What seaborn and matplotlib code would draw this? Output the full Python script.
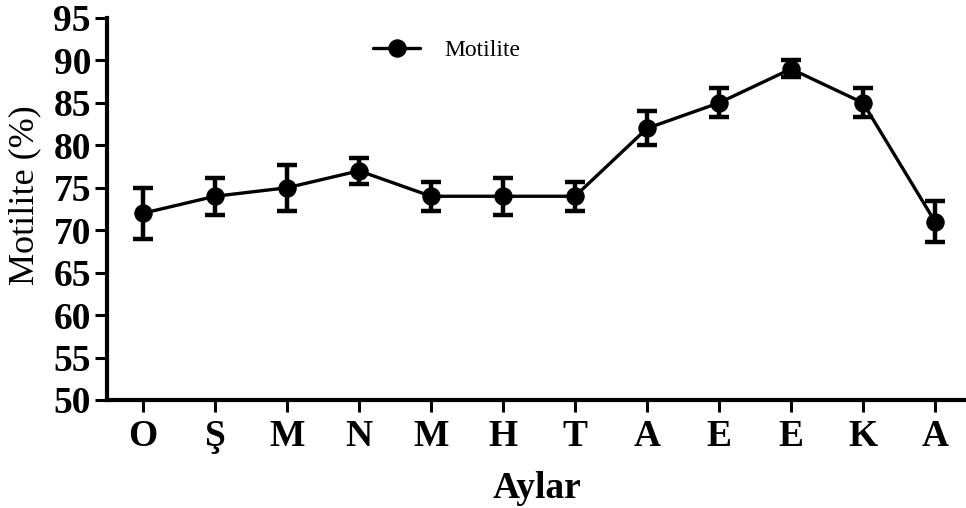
import matplotlib
matplotlib.use("Agg")
import matplotlib.pyplot as plt
import seaborn as sns
import pandas as pd

months = ["O", "Ş", "M", "N", "M", "H", "T", "A", "E", "E", "K", "A"]
motility = [72, 74, 75, 77, 74, 74, 74, 82, 85, 89, 85, 71]
motility_err = [3.0, 2.2, 2.7, 1.5, 1.7, 2.2, 1.7, 2.0, 1.7, 1.0, 1.7, 2.4]
y_ticks = [50, 55, 60, 65, 70, 75, 80, 85, 90, 95]

sns.set_theme(style="ticks")
plt.rcParams["font.family"] = ["Liberation Serif", "DejaVu Serif"]
plt.rcParams.update({
    "text.color": "black",
    "axes.labelcolor": "black",
    "xtick.color": "black",
    "ytick.color": "black",
    "xtick.labelcolor": "black",
    "ytick.labelcolor": "black",
})

df = pd.DataFrame({"pos": range(len(months)), "val": motility, "err": motility_err})

fig = plt.figure(figsize=(9.66, 5.08), dpi=100)
ax = fig.add_axes([0.1108, 0.2126, 0.8892, 0.752])

ax.errorbar(df["pos"], df["val"], yerr=df["err"], fmt="none", ecolor="black",
            elinewidth=3.2, capsize=7.5, capthick=3.2, zorder=2)
sns.lineplot(data=df, x="pos", y="val", ax=ax, color="black", linewidth=2.4,
             marker="o", markersize=12.5, markeredgecolor="black",
             label="Motilite", zorder=3)

ax.set_xlim(-0.5, 11.43)
ax.set_ylim(50, 95)
ax.set_yticks(y_ticks)
ax.set_yticklabels([str(t) for t in y_ticks], fontsize=27, fontweight="bold")
ax.set_xticks(range(len(months)))
ax.set_xticklabels(months, fontsize=27, fontweight="bold")

ax.set_xlabel("Aylar", fontsize=27, fontweight="bold", labelpad=12)
ax.set_ylabel("Motilite (%)", fontsize=26)
ax.yaxis.set_label_coords(-0.076, 0.537)

for side in ["top", "right"]:
    ax.spines[side].set_visible(False)
for side in ["left", "bottom"]:
    ax.spines[side].set_linewidth(3)
    ax.spines[side].set_color("black")
ax.tick_params(axis="both", direction="out", length=8.6, width=2.2, color="black")
ax.tick_params(axis="x", pad=5)
ax.tick_params(axis="y", pad=3)

leg = ax.legend(loc="center left", bbox_to_anchor=(0.285, 0.915), frameon=False,
                fontsize=17, handlelength=2.0, handletextpad=1.0)
for t in leg.get_texts():
    t.set_color("black")

fig.savefig("out.png", dpi=100)
